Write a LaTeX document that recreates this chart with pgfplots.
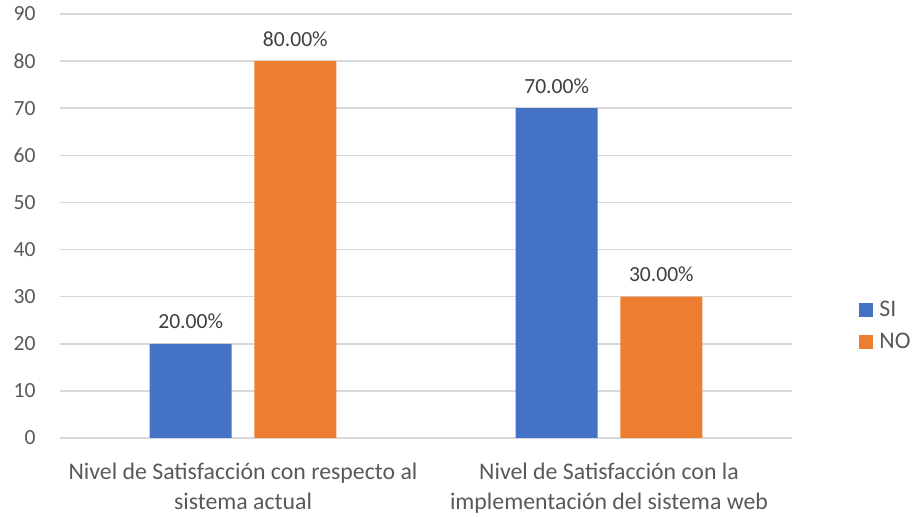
\documentclass[border=0pt]{standalone}
\usepackage{fontspec}
\setmainfont{Carlito}
\usepackage{pgfplots}
\pgfplotsset{compat=1.18}

\definecolor{siblue}{HTML}{4472C4}
\definecolor{noorange}{HTML}{ED7D31}
\definecolor{gridgray}{HTML}{D9D9D9}
\definecolor{labelgray}{HTML}{595959}
\definecolor{valuegray}{HTML}{404040}

\begin{document}
\begin{tikzpicture}
\useasboundingbox (0,0) rectangle (457.5pt,258.5pt);
\begin{axis}[
  at={(30pt,39.5pt)}, anchor=south west,
  scale only axis,
  width=366pt, height=212pt,
  ybar,
  xmin=-0.5, xmax=1.5,
  ymin=0, ymax=90,
  ytick={0,10,...,90},
  xtick={0,1},
  xticklabels={Nivel de Satisfacción con respecto al\\sistema actual,
               Nivel de Satisfacción con la\\implementación del sistema web},
  xticklabel style={align=center, text=labelgray, font=\fontsize{11.9}{15}\selectfont,
                    inner sep=0pt, yshift=-12.5pt, anchor=north},
  yticklabel style={text=labelgray, font=\fontsize{10.8}{12}\selectfont,
                    inner sep=0pt, anchor=east, xshift=-12pt},
  /pgf/number format/assume math mode=true,
  major tick length=0pt,
  ymajorgrids,
  grid style={gridgray, line width=0.75pt},
  axis lines*=left,
  x axis line style={gridgray, line width=0.75pt},
  y axis line style={draw=none},
  bar width=0.224,
  nodes near coords={\pgfmathprintnumber[fixed,fixed zerofill,precision=2]{\pgfplotspointmeta}\%},
  nodes near coords style={anchor=base, inner sep=0pt, yshift=7.5pt, text=valuegray,
                           font=\fontsize{10.8}{12}\selectfont},
  legend style={draw=none, fill=none,
                at={([xshift=33.5pt]axis description cs:1,0.264)}, anchor=west,
                font=\fontsize{11.9}{13}\selectfont, text=labelgray,
                row sep=7pt, inner sep=0pt,
                nodes={inner sep=0pt},
                /tikz/every odd column/.append style={column sep=3pt}},
  legend cell align=left,
  legend image code/.code={\fill[#1] (0pt,-3.5pt) rectangle (7pt,3.5pt);},
]
\addplot[fill=siblue, draw=none, bar shift=-0.143] coordinates {(0,20) (1,70)};
\addlegendentry{SI}
\addplot[fill=noorange, draw=none, bar shift=0.143] coordinates {(0,80) (1,30)};
\addlegendentry{NO}
\end{axis}
\end{tikzpicture}
\end{document}
